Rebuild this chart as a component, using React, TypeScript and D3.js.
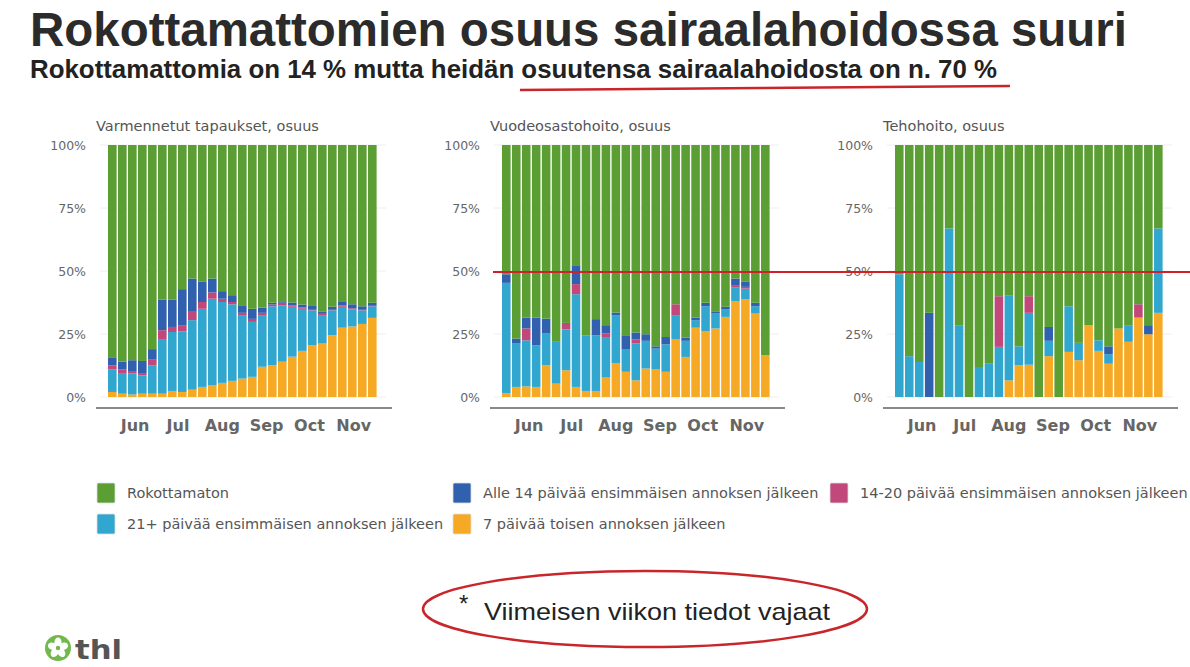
import React from "react";
import * as d3 from "d3";

const W = 1190;
const H = 667;

const startDate = new Date(2021, 4, 13);
const weekCount = 27;
const monthTicks = ["Jun", "Jul", "Aug", "Sep", "Oct", "Nov"];
const yTicks = [0, 25, 50, 75, 100];

const seriesKeys = ["second", "first21", "first14_20", "firstUnder14", "unvacc"];
const seriesLabels: Record<string, string> = {
  unvacc: "Rokottamaton",
  firstUnder14: "Alle 14 päivää ensimmäisen annoksen jälkeen",
  first14_20: "14-20 päivää ensimmäisen annoksen jälkeen",
  first21: "21+ päivää ensimmäisen annoksen jälkeen",
  second: "7 päivää toisen annoksen jälkeen",
};
const seriesColors: Record<string, string> = {
  unvacc: "#5a9e34",
  firstUnder14: "#3160ae",
  first14_20: "#c2477a",
  first21: "#31a7cf",
  second: "#f6a924",
};

// Panel 1: Varmennetut tapaukset
const casesSecond = [2, 1.3, 1, 1.3, 1.3, 1.3, 2.4, 2, 2.9, 4, 4.6, 5.6, 6.4, 7.3, 8, 12, 12.6, 14, 16, 18.3, 20.5, 21.2, 24.5, 27.5, 28, 29, 31.4];
const casesFirst21 = [9, 8.2, 8.3, 7.3, 11.3, 21.7, 23.4, 24, 27.6, 31, 34.4, 32.1, 30.4, 25.2, 21.8, 20.5, 23.4, 22.4, 19.8, 16.7, 13.9, 11.3, 9.9, 8.3, 6.7, 5.4, 4.6];
const cases14_20 = [1.5, 1.5, 1, 0.9, 2.2, 3.5, 2, 2.5, 3.3, 2.7, 2.5, 1.3, 0.9, 0.9, 1.2, 0.9, 0.7, 1, 0.5, 0.5, 0.5, 0.5, 0.5, 0.5, 0.5, 0.5, 0.5];
const casesUnder14 = [3, 3, 4.3, 4.8, 4.2, 12.2, 10.9, 14.3, 13.2, 8, 5.5, 3, 2.7, 3, 4, 2.1, 0.7, 0.6, 1.2, 1.2, 1.5, 0.8, 0.9, 1.4, 1.6, 1.1, 0.9];

// Panel 2: Vuodeosastohoito
const wardSecond = [1.6, 4, 4.2, 4, 12.6, 5.3, 10.6, 4, 2.4, 2.4, 7.7, 13.5, 10, 6.6, 11.3, 10.9, 10, 22.8, 15.9, 27.5, 26.2, 27.2, 31.8, 38.1, 38.7, 33.1, 16.6];
const wardFirst21 = [43.7, 17.2, 18.3, 16.5, 12.6, 16.6, 16.2, 36.8, 22.1, 22.1, 16.1, 19, 8.8, 14.6, 11, 8.3, 10.9, 9.7, 6.4, 3, 9.8, 5.9, 2.9, 5.3, 4.3, 2.9, 0];
const ward14_20 = [0, 0, 4.7, 0, 0, 0, 2.6, 4, 0, 0, 1.4, 0, 0, 1.6, 0, 0, 0, 4.3, 0, 0, 0, 0, 0, 1, 0.7, 0, 0];
const wardUnder14 = [3.4, 2, 4.3, 11, 5.9, 0, 0, 7.2, 0, 6.4, 3.3, 1, 5.7, 2.8, 2.6, 0.9, 2.9, 0, 1.3, 1, 1.4, 0.9, 1.1, 2.6, 2, 1.4, 0];

// Panel 3: Tehohoito
const icuSecond = [0, 0, 0, 0, 0, 0, 0, 0, 0, 0, 0, 6.6, 12.6, 12.8, 0, 16.2, 0, 17.9, 14.6, 28.5, 18.3, 13.2, 27.2, 21.9, 31.5, 24.9, 33.4];
const icuFirst21 = [48.7, 16.2, 13.9, 0, 0, 66.9, 28.5, 0, 11.9, 13.2, 19.9, 33.8, 7.5, 20.6, 0, 6.1, 0, 18.1, 6.9, 0, 4.2, 3.8, 0, 6.6, 0, 0, 33.5];
const icu14_20 = [0, 0, 0, 0, 0, 0, 0, 0, 0, 0, 20.1, 0, 0, 6.6, 0, 0, 0, 0, 0, 0, 0, 0, 0, 0, 5.3, 0, 0];
const icuUnder14 = [0, 0, 0, 33.4, 0, 0, 0, 0, 0, 0, 0, 0, 0, 0, 0, 5.5, 0, 0, 0, 0, 0, 3.1, 0, 0, 0, 3.6, 0];

type Row = { [k: string]: number };

function buildRows(second: number[], f21: number[], f1420: number[], fu14: number[]): Row[] {
  return second.map((_, i) => {
    const other = second[i] + f21[i] + f1420[i] + fu14[i];
    return {
      week: i,
      second: second[i],
      first21: f21[i],
      first14_20: f1420[i],
      firstUnder14: fu14[i],
      unvacc: 100 - other,
    };
  });
}

const panels = [
  { title: "Varmennetut tapaukset, osuus", x0: 108, x1: 378, rows: buildRows(casesSecond, casesFirst21, cases14_20, casesUnder14) },
  { title: "Vuodeosastohoito, osuus", x0: 502, x1: 771, rows: buildRows(wardSecond, wardFirst21, ward14_20, wardUnder14) },
  { title: "Tehohoito, osuus", x0: 895, x1: 1164, rows: buildRows(icuSecond, icuFirst21, icu14_20, icuUnder14) },
];

const y = d3.scaleLinear().domain([0, 100]).range([397, 145]);
const endDate = d3.timeDay.offset(startDate, weekCount * 7);

function Panel({ p }: { p: (typeof panels)[number] }) {
  const x = d3.scaleTime().domain([startDate, endDate]).range([p.x0, p.x1]);
  const stack = d3.stack<Row>().keys(seriesKeys)(p.rows);
  const months = d3.timeMonth.range(new Date(2021, 5, 1), new Date(2021, 11, 1));
  const font = "DejaVu Sans, sans-serif";
  return (
    <g>
      <text x={p.x0 - 12} y={131} fontSize={14.5} fill="#555" fontFamily={font}>
        {p.title}
      </text>
      {yTicks.map((t) => (
        <g key={t}>
          <line x1={p.x0 - 8} x2={p.x1 + 8} y1={y(t)} y2={y(t)} stroke="#eeeeee" strokeWidth={1} />
          <text x={p.x0 - 22} y={y(t) + 4.5} fontSize={12.5} fill="#666" textAnchor="end" fontFamily={font}>
            {t}%
          </text>
        </g>
      ))}
      {stack.map((layer) => (
        <g key={layer.key} fill={seriesColors[layer.key]}>
          {layer.map((d, i) => {
            const a = d3.timeDay.offset(startDate, i * 7);
            const b = d3.timeDay.offset(startDate, i * 7 + 7);
            const h = y(d[0]) - y(d[1]);
            if (h <= 0) return null;
            return <rect key={i} x={x(a)} width={x(b) - x(a) - 1.4} y={y(d[1])} height={h} />;
          })}
        </g>
      ))}
      <line x1={p.x0 - 12} x2={p.x1 + 14} y1={408} y2={408} stroke="#888" strokeWidth={2} />
      {months.map((m, i) => (
        <text key={i} x={x(m)} y={431} fontSize={16} fontWeight="bold" fill="#666" textAnchor="middle" fontFamily={font}>
          {monthTicks[i]}
        </text>
      ))}
    </g>
  );
}

const legendItems = [
  { key: "unvacc", x: 97, y: 483 },
  { key: "firstUnder14", x: 453, y: 483 },
  { key: "first14_20", x: 830, y: 483 },
  { key: "first21", x: 97, y: 514 },
  { key: "second", x: 453, y: 514 },
];

export default function App() {
  const sans = "Liberation Sans, Arial, sans-serif";
  return (
    <div style={{ position: "absolute", left: 0, top: 0 }}>
      <svg width={W} height={H} style={{ display: "block", background: "#fff" }}>
        <text x={30} y={46} fontSize={48} fontWeight="bold" fill="#2b2b2b" fontFamily={sans} textLength={1097} lengthAdjust="spacingAndGlyphs">
          Rokottamattomien osuus sairaalahoidossa suuri
        </text>
        <text x={30} y={78} fontSize={25} fontWeight="bold" fill="#222" fontFamily={sans} textLength={967} lengthAdjust="spacingAndGlyphs">
          Rokottamattomia on 14 % mutta heidän osuutensa sairaalahoidosta on n. 70 %
        </text>
        <path d="M520,90 L640,89 L760,88 L880,87 L1010,86" stroke="#c8262b" strokeWidth={2.5} fill="none" />

        {panels.map((p, i) => (
          <Panel key={i} p={p} />
        ))}

        <line x1={493} x2={1190} y1={272} y2={272} stroke="#d0202a" strokeWidth={2} />

        {legendItems.map((l) => (
          <g key={l.key}>
            <rect x={l.x} y={l.y} width={18} height={20} rx={1.5} fill={seriesColors[l.key]} stroke="#ddd" strokeWidth={0.8} />
            <text x={l.x + 30} y={l.y + 15} fontSize={14.5} fill="#555" fontFamily="DejaVu Sans, sans-serif">
              {seriesLabels[l.key]}
            </text>
          </g>
        ))}

        <ellipse cx={645} cy={609} rx={222} ry={38} fill="none" stroke="#c8262b" strokeWidth={2.5} />
        <text x={459} y={612} fontSize={24} fill="#222" fontFamily={sans}>*</text>
        <text x={484} y={620} fontSize={24} fill="#222" fontFamily={sans} textLength={346} lengthAdjust="spacingAndGlyphs">
          Viimeisen viikon tiedot vajaat
        </text>

        <g transform="translate(58,648)">
          <circle r={13} fill="#72b84a" />
          {[0, 72, 144, 216, 288].map((a) => (
            <ellipse key={a} cx={0} cy={-5.5} rx={3.6} ry={5} fill="#fff" transform={`rotate(${a})`} />
          ))}
          <circle r={2.2} fill="#72b84a" />
        </g>
        <text x={75} y={659} fontSize={27} fontWeight="bold" fill="#555" fontFamily="DejaVu Sans, sans-serif" textLength={47} lengthAdjust="spacingAndGlyphs">
          thl
        </text>
      </svg>
    </div>
  );
}
